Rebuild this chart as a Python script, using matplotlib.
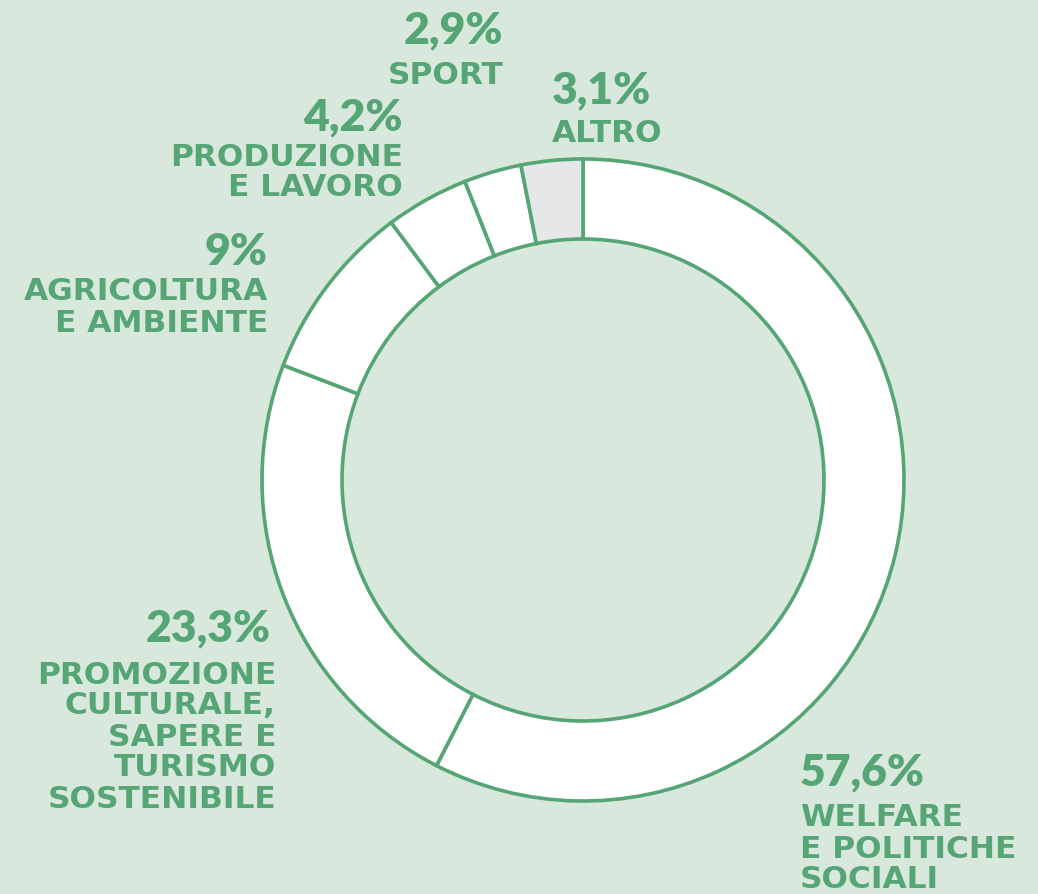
import matplotlib
matplotlib.use("Agg")
import matplotlib.pyplot as plt

categories = ["WELFARE\nE POLITICHE\nSOCIALI",
              "PROMOZIONE\nCULTURALE,\nSAPERE E\nTURISMO\nSOSTENIBILE",
              "AGRICOLTURA\nE AMBIENTE",
              "PRODUZIONE\nE LAVORO",
              "SPORT",
              "ALTRO"]
values = [57.6, 23.3, 9.0, 4.2, 2.9, 3.1]

BG = "#d8e8dd"
GREEN = "#55a575"
GREY = "#e6e7e9"
W, H = 1038, 894

fig = plt.figure(figsize=(W / 100, H / 100), dpi=100, facecolor=BG)
ax = fig.add_axes([0, 0, 1, 1])
ax.set_facecolor(BG)

def Y(y):
    return H - y

cx, cy, R, ring = 583, 480, 321, 80
colors = ["white"] * 5 + [GREY]
ax.pie(values, colors=colors, startangle=90, counterclock=False,
       center=(cx, Y(cy)), radius=R, frame=True,
       wedgeprops=dict(width=ring, edgecolor=GREEN, linewidth=2.6))
ax.set_xlim(0, W)
ax.set_ylim(0, H)
ax.set_aspect("equal")
ax.axis("off")

def fmt(v):
    return (f"{v:.0f}%" if float(v).is_integer() else f"{v:.1f}%".replace(".", ","))

# (x, y of percent center, ha, y of first label line center)
pos = [
    (800, 772, "left", 818),
    (271, 628, "right", 675),
    (268, 252, "right", 292),
    (403, 117, "right", 157),
    (503, 30, "right", 75),
    (552, 90, "left", 133),
]
line_gap = 31
for v, lab, (x, yp, ha, yl) in zip(values, categories, pos):
    ax.text(x, Y(yp), fmt(v), ha=ha, va="center", color=GREEN,
            fontsize=32, fontweight="heavy", family="Lato")
    xl = x + (5 if ha == "right" and len(lab) > 30 else 0)
    for i, line in enumerate(lab.split("\n")):
        ax.text(xl, Y(yl + i * line_gap), line, ha=ha, va="center",
                color=GREEN, fontsize=22.5, fontweight="bold", family="DejaVu Sans")

fig.savefig("out.png", dpi=100, facecolor=BG)
